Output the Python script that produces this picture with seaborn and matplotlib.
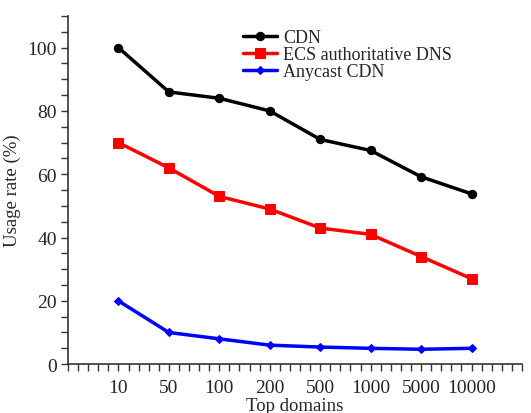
import pandas as pd
import matplotlib
matplotlib.use("Agg")
import matplotlib.pyplot as plt
from matplotlib.ticker import MultipleLocator
import seaborn as sns

# 데이터
top_domains = ["10", "50", "100", "200", "500", "1000", "5000", "10000"]
cdn = [100, 86, 84, 80, 71, 67.5, 59.2, 53.8]
ecs_dns = [70, 62, 53, 49, 43, 41, 34, 27]
anycast_cdn = [20, 10, 8, 6, 5.4, 5.0, 4.7, 5.0]

series_names = ["CDN", "ECS authoritative DNS", "Anycast CDN"]
series_values = [cdn, ecs_dns, anycast_cdn]

rows = []
for name, vals in zip(series_names, series_values):
    for i, (lab, v) in enumerate(zip(top_domains, vals)):
        rows.append({"pos": i + 1, "domain": lab, "rate": v, "series": name})
df = pd.DataFrame(rows)

sns.set_style("ticks")
plt.rcParams["font.family"] = ["Liberation Serif", "DejaVu Serif"]

fig = plt.figure(figsize=(5.31, 4.14), dpi=100)
ax = fig.add_axes([0.128, 0.118, 0.855, 0.841])

palette = {"CDN": "black", "ECS authoritative DNS": "red", "Anycast CDN": "blue"}
markers = {"CDN": "o", "ECS authoritative DNS": "s", "Anycast CDN": "D"}
sizes = {"CDN": 6, "ECS authoritative DNS": 7, "Anycast CDN": 4.5}

for name in series_names:
    sub = df[df["series"] == name]
    sns.lineplot(data=sub, x="pos", y="rate", color=palette[name],
                 marker=markers[name], markersize=sizes[name],
                 markeredgecolor=palette[name], linewidth=2.5,
                 label=name, ax=ax)

ax.set_xlim(0, 9)
ax.set_ylim(0, 110)
ax.set_xticks(range(1, len(top_domains) + 1))
ax.set_xticklabels(top_domains)
ax.xaxis.set_minor_locator(MultipleLocator(0.2))
ax.set_yticks([0, 20, 40, 60, 80, 100])
ax.yaxis.set_minor_locator(MultipleLocator(5))

ax.tick_params(axis="both", which="both", direction="out", length=5,
               width=1, color="#333333", labelsize=14)
ax.tick_params(axis="x", which="major", pad=6)
ax.tick_params(axis="y", which="major", pad=3)

for s in ["top", "right"]:
    ax.spines[s].set_visible(False)
for s in ["left", "bottom"]:
    ax.spines[s].set_linewidth(1.2)
    ax.spines[s].set_color("#333333")

ax.set_xlabel("Top domains", fontsize=13.5, labelpad=0.5)
ax.set_ylabel("Usage rate (%)", fontsize=13.5, labelpad=5)

ax.legend(loc="upper left", bbox_to_anchor=(0.363, 0.99), frameon=False,
          fontsize=13, handlelength=1.9, handletextpad=0.35,
          labelspacing=0.0, borderaxespad=0.15)

fig.savefig("out.png", dpi=100)
